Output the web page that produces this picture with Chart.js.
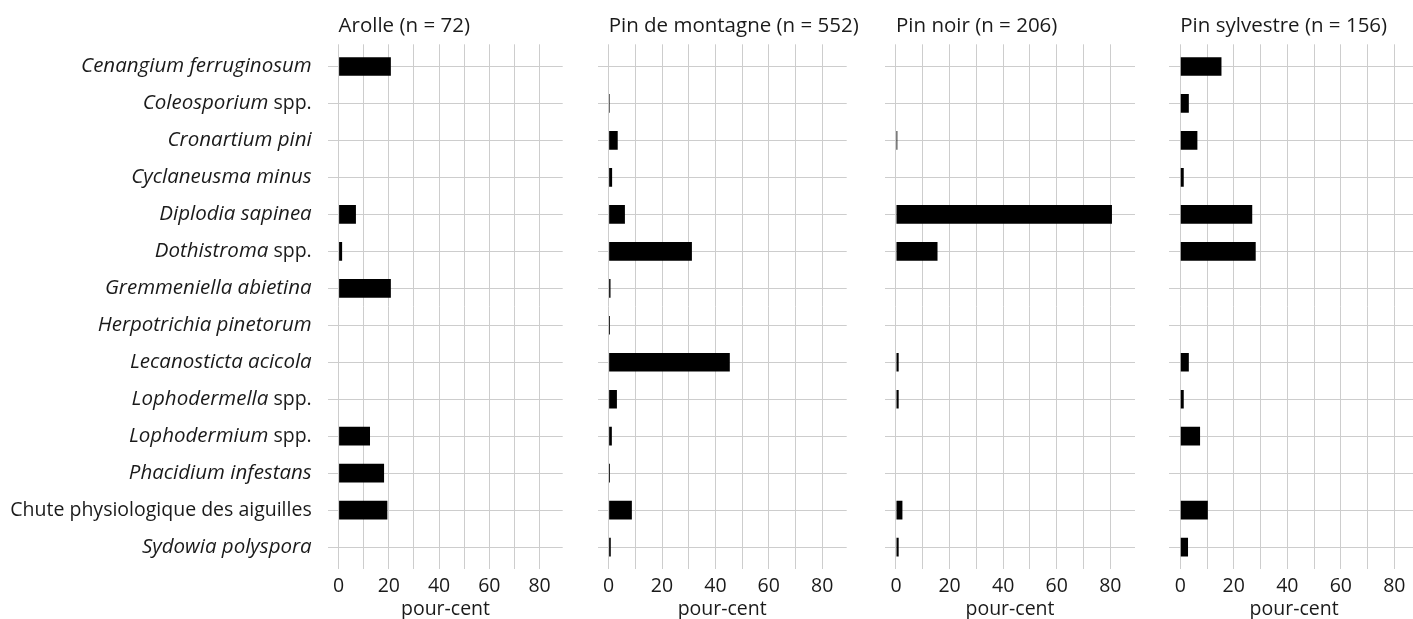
<!DOCTYPE html>
<html>
<head>
<meta charset="utf-8">
<script src="https://cdn.jsdelivr.net/npm/chart.js@4.4.1/dist/chart.umd.min.js"></script>
<style>
  html, body { margin: 0; padding: 0; background: #fff; overflow: hidden; width: 1413px; height: 619px; }
  canvas { position: absolute; top: 0; }
</style>
</head>
<body>
<canvas id="p0"></canvas>
<canvas id="p1"></canvas>
<canvas id="p2"></canvas>
<canvas id="p3"></canvas>
<script>
// Needle-disease agents recorded on pines, share of samples (%) per tree species
const categories = [
  'Cenangium ferruginosum',
  'Coleosporium spp.',
  'Cronartium pini',
  'Cyclaneusma minus',
  'Diplodia sapinea',
  'Dothistroma spp.',
  'Gremmeniella abietina',
  'Herpotrichia pinetorum',
  'Lecanosticta acicola',
  'Lophodermella spp.',
  'Lophodermium spp.',
  'Phacidium infestans',
  'Chute physiologique des aiguilles',
  'Sydowia polyspora'
];
// labels that are not taxon names are set upright
const uprightLabels = ['Chute physiologique des aiguilles'];

const panelTitles = ['Arolle (n = 72)', 'Pin de montagne (n = 552)', 'Pin noir (n = 206)', 'Pin sylvestre (n = 156)'];

const arolle       = [20.8, 0, 0, 0, 6.9, 1.4, 20.8, 0, 0, 0, 12.5, 18.1, 19.4, 0];
const pinMontagne  = [0, 0.4, 3.4, 1.3, 6.1, 31.2, 0.7, 0.5, 45.4, 3.1, 1.2, 0.5, 8.7, 0.8];
const pinNoir      = [0, 0, 0.5, 0, 80.6, 15.5, 0, 0, 1.0, 1.0, 0, 0, 2.4, 1.0];
const pinSylvestre = [15.4, 3.2, 6.4, 1.3, 26.9, 28.2, 0, 0, 3.2, 1.3, 7.4, 0, 10.3, 2.9];

const xTickValues = [0, 10, 20, 30, 40, 50, 60, 70, 80];
const xTickLabels = ['0', '', '20', '', '40', '', '60', '', '80'];
const axisTitle = 'pour-cent';

// ---- layout and style ----
const FONT = '"Open Sans", "Noto Sans", sans-serif';
const FS = 19.5;          // ticks, axis title, upright labels
const FS_ITALIC = 20.5;   // taxon names
const FS_TITLE = 20.5;    // panel headings
const TEXT = '#1a1a1a';
const GRID = '#cdcdcd';
const H = 619;
const PLOT_TOP = 44.3, PLOT_BOTTOM = 569.3;
const LABEL_GAP = 16.6;

const panels = [
  { id: 'p0', canvasLeft: 0,    canvasWidth: 575, plotLeft: 328.3,  plotRight: 562.7,  values: arolle,       title: panelTitles[0], labels: true },
  { id: 'p1', canvasLeft: 575,  canvasWidth: 300, plotLeft: 597.7,  plotRight: 846.7,  values: pinMontagne,  title: panelTitles[1], labels: false },
  { id: 'p2', canvasLeft: 875,  canvasWidth: 285, plotLeft: 885,    plotRight: 1135,   values: pinNoir,      title: panelTitles[2], labels: false },
  { id: 'p3', canvasLeft: 1160, canvasWidth: 260, plotLeft: 1169.3, plotRight: 1418.9, values: pinSylvestre, title: panelTitles[3], labels: false }
];

// category names on the left, taxon part in italics
const speciesLabels = {
  id: 'speciesLabels',
  afterDraw(chart, args, opts) {
    if (!opts.show) return;
    const ctx = chart.ctx;
    const yScale = chart.scales.y;
    const xRight = chart.chartArea.left - LABEL_GAP;
    ctx.save();
    ctx.textBaseline = 'middle';
    ctx.textAlign = 'left';
    ctx.fillStyle = TEXT;
    categories.forEach((name, i) => {
      let parts;
      if (uprightLabels.includes(name)) parts = [[name, false]];
      else if (name.endsWith(' spp.')) parts = [[name.slice(0, -5), true], [' spp.', false]];
      else parts = [[name, true]];
      const fonts = parts.map(p => p[1] ? 'italic ' + FS_ITALIC + 'px ' + FONT : FS + 'px ' + FONT);
      let total = 0;
      const widths = parts.map((p, k) => { ctx.font = fonts[k]; const w = ctx.measureText(p[0]).width; total += w; return w; });
      let x = xRight - total;
      const py = yScale.getPixelForValue(i);
      parts.forEach((p, k) => { ctx.font = fonts[k]; ctx.fillText(p[0], x, py); x += widths[k]; });
    });
    ctx.restore();
  }
};

// panel heading, starting at the zero line of the panel
const panelTitle = {
  id: 'panelTitle',
  afterDraw(chart, args, opts) {
    const ctx = chart.ctx;
    ctx.save();
    ctx.font = FS_TITLE + 'px ' + FONT;
    ctx.fillStyle = TEXT;
    ctx.textBaseline = 'alphabetic';
    ctx.textAlign = 'left';
    ctx.fillText(opts.text, chart.scales.x.getPixelForValue(0), 32);
    ctx.restore();
  }
};

panels.forEach(p => {
  const cv = document.getElementById(p.id);
  cv.width = p.canvasWidth;
  cv.height = H;
  cv.style.left = p.canvasLeft + 'px';
  cv.style.width = p.canvasWidth + 'px';
  cv.style.height = H + 'px';

  new Chart(cv.getContext('2d'), {
    type: 'bar',
    data: {
      datasets: [{
        data: p.values.map((v, i) => ({ x: v, y: i })),
        backgroundColor: '#000000',
        borderWidth: 0,
        barPercentage: 0.505,
        categoryPercentage: 1
      }]
    },
    options: {
      indexAxis: 'y',
      responsive: false,
      animation: false,
      devicePixelRatio: 1,
      layout: {
        padding: {
          left: p.plotLeft - p.canvasLeft,
          right: p.canvasLeft + p.canvasWidth - p.plotRight,
          top: PLOT_TOP,
          bottom: 0
        }
      },
      plugins: {
        legend: { display: false },
        tooltip: { enabled: false },
        title: { display: false },
        speciesLabels: { show: p.labels },
        panelTitle: { text: p.title }
      },
      scales: {
        x: {
          type: 'linear',
          min: -4.1,
          max: 89.2,
          offset: false,
          afterBuildTicks: s => { s.ticks = xTickValues.map(v => ({ value: v })); },
          afterFit: s => { s.height = H - PLOT_BOTTOM; },
          grid: { color: GRID, lineWidth: 1, drawTicks: false, offset: false },
          border: { display: false },
          ticks: {
            autoSkip: false,
            maxRotation: 0,
            padding: 5,
            color: TEXT,
            font: { family: FONT, size: FS },
            callback: v => xTickLabels[xTickValues.indexOf(v)]
          },
          title: {
            display: true,
            text: axisTitle,
            color: TEXT,
            font: { family: FONT, size: FS },
            padding: { top: 0, bottom: -2 }
          }
        },
        y: {
          type: 'linear',
          reverse: true,
          offset: false,
          min: -0.6,
          max: categories.length - 1 + 0.6,
          afterBuildTicks: s => { s.ticks = categories.map((_, i) => ({ value: i })); },
          afterFit: s => { s.width = 0; },
          grid: { color: GRID, lineWidth: 1, drawTicks: false, offset: false },
          border: { display: false },
          ticks: { display: false }
        }
      }
    },
    plugins: [speciesLabels, panelTitle]
  });
});
</script>
</body>
</html>
